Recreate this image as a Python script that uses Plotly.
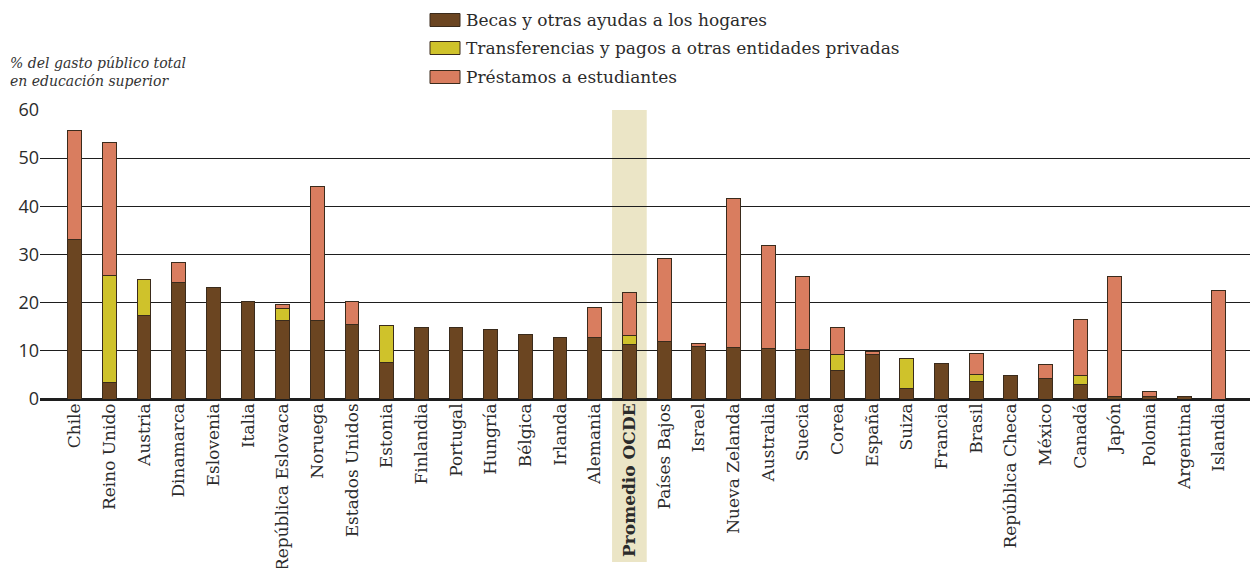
import plotly.graph_objects as go

categories = ["Chile", "Reino Unido", "Austria", "Dinamarca", "Eslovenia", "Italia",
              "República Eslovaca", "Noruega", "Estados Unidos", "Estonia", "Finlandia",
              "Portugal", "Hungría", "Bélgica", "Irlanda", "Alemania", "Promedio OCDE",
              "Países Bajos", "Israel", "Nueva Zelanda", "Australia", "Suecia", "Corea",
              "España", "Suiza", "Francia", "Brasil", "República Checa", "México",
              "Canadá", "Japón", "Polonia", "Argentina", "Islandia"]

becas = [33.2, 3.5, 17.4, 24.1, 23.2, 20.3, 16.4, 16.2, 15.5, 7.5, 14.8,
         14.9, 14.4, 13.3, 12.7, 12.7, 11.3, 12.0, 10.9, 10.7, 10.5, 10.2, 5.9,
         9.3, 2.1, 7.4, 3.6, 4.9, 4.3, 3.0, 0.5, 0.5, 0.5, 0]
transferencias = [0, 22.1, 7.4, 0, 0, 0, 2.3, 0, 0, 7.7, 0.1,
                  0, 0, 0, 0, 0, 1.9, 0, 0, 0, 0, 0, 3.4,
                  0, 6.3, 0, 1.4, 0, 0, 1.9, 0, 0, 0, 0]
prestamos = [22.5, 27.7, 0, 4.3, 0, 0, 1.0, 28.0, 4.8, 0, 0,
             0, 0, 0, 0, 6.2, 8.9, 17.2, 0.7, 31.0, 21.4, 15.2, 5.6,
             0.6, 0, 0, 4.5, 0, 2.9, 11.6, 24.9, 1.1, 0, 22.5]

series_names = ["Becas y otras ayudas a los hogares",
                "Transferencias y pagos a otras entidades privadas",
                "Préstamos a estudiantes"]
colors = ["#6b4521", "#cfc22b", "#d97d5f"]
highlight = "Promedio OCDE"

x_idx = list(range(len(categories)))
ticktext = ["<b>%s</b>" % c if c == highlight else c for c in categories]

def nz(vals):
    return [v if v else None for v in vals]

fig = go.Figure()
for name, vals, col in zip(series_names, [becas, transferencias, prestamos], colors):
    fig.add_trace(go.Bar(
        x=x_idx, y=nz(vals), name=name, width=0.4,
        marker=dict(color=col, line=dict(color="#3a2b1c", width=1)),
        showlegend=False,
    ))

hi = categories.index(highlight)
fig.add_shape(type="rect", xref="x", yref="paper", x0=hi - 0.5, x1=hi + 0.5,
              y0=-0.564, y1=1.0, fillcolor="#ebe5c6", line=dict(width=0), layer="below")

# legend drawn as shapes + text
leg_y = [20, 48, 77]
plot_left, plot_w = 40, 1210
plot_top, plot_bot = 110, 399
ph = plot_bot - plot_top
for name, col, yy in zip(series_names, colors, leg_y):
    y0 = (plot_bot - (yy + 6.5)) / ph
    y1 = (plot_bot - (yy - 6.5)) / ph
    fig.add_shape(type="rect", xref="paper", yref="paper",
                  x0=(430 - plot_left) / plot_w, x1=(460 - plot_left) / plot_w, y0=y0, y1=y1,
                  fillcolor=col, line=dict(color="#3a2b1c", width=1))
    fig.add_annotation(xref="paper", yref="paper", x=(464 - plot_left) / plot_w,
                       y=(plot_bot - yy) / ph, text=name, showarrow=False,
                       xanchor="left", yanchor="middle",
                       font=dict(family="DejaVu Serif", size=17, color="#2b2b2b"))

fig.add_annotation(xref="paper", yref="paper", x=(8 - plot_left) / plot_w, y=(plot_bot - 72) / ph,
                   text="<i>% del gasto público total<br>en educación superior</i>",
                   showarrow=False, xanchor="left", yanchor="middle", align="left",
                   font=dict(family="DejaVu Serif", size=14, color="#333333"))

fig.update_layout(
    barmode="stack",
    width=1253, height=568,
    margin=dict(l=40, r=3, t=110, b=169, autoexpand=False),
    paper_bgcolor="white", plot_bgcolor="white",
    bargap=0.6,
)
fig.update_xaxes(
    range=[-1.0, 33.9], tickmode="array", tickvals=x_idx, ticktext=ticktext,
    tickangle=-90, showgrid=False, zeroline=False, showline=False, ticks="",
    automargin=False,
    tickfont=dict(family="DejaVu Serif", size=17, color="#2b2b2b"),
)
fig.update_yaxes(
    range=[0, 60], tickvals=[0, 10, 20, 30, 40, 50, 60], showgrid=True,
    gridcolor="#1e1e1e", gridwidth=1.3, zeroline=True, zerolinecolor="#1e1e1e",
    zerolinewidth=3, showline=False, ticks="", automargin=False,
    tickfont=dict(family="Open Sans", size=18, color="#2b2b2b"),
)

fig.write_html("out.html", config={"displayModeBar": False},
               post_script="document.body.style.margin='0px';document.body.style.overflow='hidden';")
